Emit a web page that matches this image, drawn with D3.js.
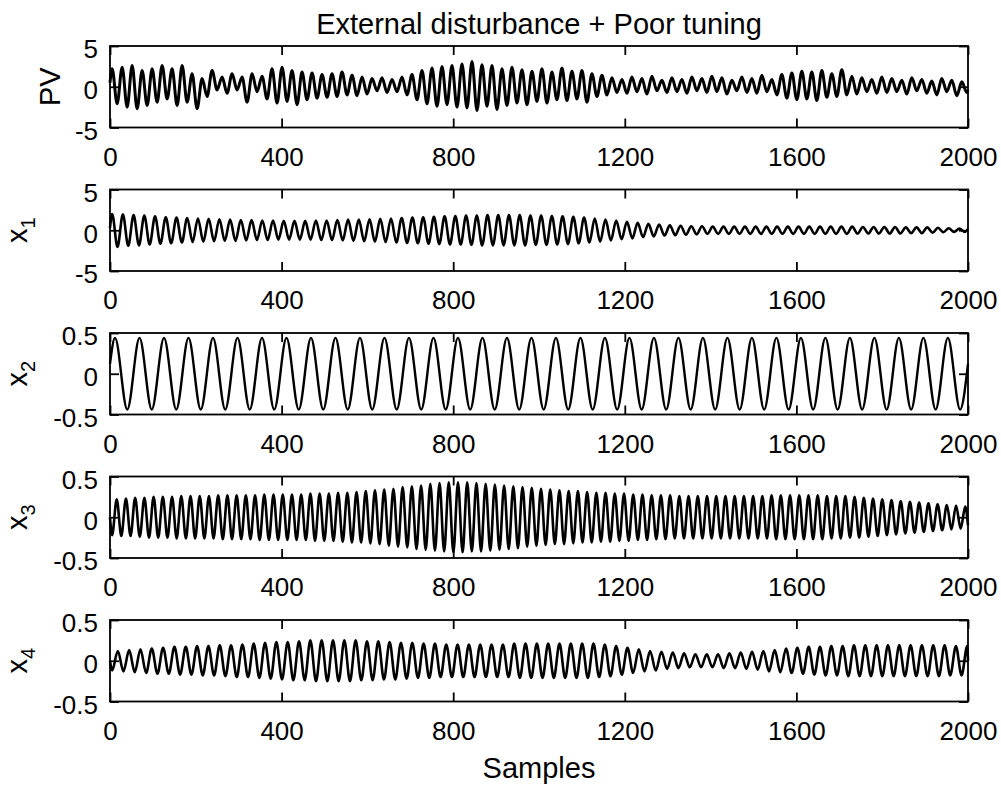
<!DOCTYPE html>
<meta charset="utf-8">
<html>
<style>
body { margin: 0; background: #fff; }
svg { display: block; font-family: "Liberation Sans", Arial, sans-serif; }
.frame { fill: none; stroke: #000; stroke-width: 1.8px; }
.trace { fill: none; stroke: #000; stroke-linejoin: round; }
.axis line { stroke: #000; stroke-width: 1.8px; }
.axis text { font-size: 26px; fill: #000; font-family: "Liberation Sans", Arial, sans-serif; }
</style>
<svg width="1001" height="788"></svg>
<script src="https://d3js.org/d3.v7.min.js"></script>
<script>
// x axis (samples)
var sampleTicks = [0, 400, 800, 1200, 1600, 2000];

// each trace is stored as its successive peaks / troughs,
// with the sample of the first turning point and the spacing between turning points
var pvStart = 0.5, pvFirst = 5, pvStep = 11.65, pvEnd = -0.4;
var pvExtrema = [
  2.2,-2.1,2.4,-2.5,2.6,-2.7,2.0,-2.3,2.2,-1.9,
  2.6,-1.5,2.2,-2.3,2.6,-1.9,1.6,-2.7,1.0,-1.2,
  2.0,-0.4,1.2,-0.8,1.6,-0.4,1.2,-1.9,1.6,-0.6,
  1.3,-1.5,2.2,-2.0,2.4,-1.8,2.0,-2.2,1.8,-1.6,
  1.7,-1.4,1.5,-1.3,1.6,-1.2,1.8,-1.0,1.4,-1.1,
  1.2,-0.9,1.0,-0.5,1.1,-0.7,0.9,-0.6,1.2,-1.0,
  1.5,-1.6,2.0,-2.1,2.3,-2.4,2.5,-2.2,2.6,-2.5,
  2.8,-2.6,3.1,-2.9,2.7,-2.4,2.6,-2.8,2.2,-2.3,
  2.4,-2.0,2.1,-2.2,1.9,-1.8,2.2,-2.0,1.8,-1.6,
  2.3,-1.7,1.9,-1.5,2.0,-1.9,1.6,-1.2,1.4,-1.0,
  1.1,-0.7,0.9,-0.8,1.2,-0.6,1.0,-0.9,1.3,-0.5,
  0.8,-0.7,1.1,-0.6,0.9,-0.8,1.2,-0.5,1.0,-0.7,
  1.3,-0.6,1.1,-0.9,0.8,-0.5,1.2,-0.7,1.0,-0.8,
  1.4,-0.6,0.9,-1.0,1.5,-1.4,1.7,-1.6,1.9,-1.5,
  1.8,-1.7,2.0,-1.3,1.6,-1.2,2.1,-1.0,1.3,-0.9,
  1.1,-0.6,0.9,-0.8,1.2,-0.7,1.0,-0.6,0.8,-0.9,
  1.1,-0.5,0.9,-0.8,0.7,-1.0,1.0,-0.6,0.8,-1.1,
  0.6,-0.7
];

var x1Start = 0.3, x1First = 5, x1Step = 12.5, x1End = 0.15;
var x1Extrema = [
  2.0,-2.05,1.95,-1.9,1.85,-1.85,1.8,-1.75,
  1.7,-1.65,1.6,-1.6,1.55,-1.5,1.5,-1.45,
  1.45,-1.4,1.4,-1.35,1.35,-1.3,1.3,-1.3,
  1.25,-1.25,1.25,-1.2,1.2,-1.2,1.2,-1.15,
  1.15,-1.15,1.15,-1.15,1.15,-1.15,1.2,-1.2,
  1.2,-1.2,1.25,-1.25,1.3,-1.3,1.3,-1.35,
  1.35,-1.4,1.4,-1.45,1.45,-1.5,1.5,-1.55,
  1.55,-1.6,1.6,-1.65,1.65,-1.7,1.7,-1.75,
  1.75,-1.75,1.8,-1.8,1.8,-1.85,1.85,-1.85,
  1.85,-1.85,1.85,-1.85,1.85,-1.85,1.8,-1.8,
  1.8,-1.8,1.75,-1.75,1.7,-1.7,1.65,-1.6,
  1.55,-1.5,1.45,-1.4,1.3,-1.25,1.2,-1.1,
  1.05,-1.0,0.9,-0.85,0.8,-0.75,0.7,-0.65,
  0.6,-0.6,0.55,-0.55,0.5,-0.5,0.5,-0.45,
  0.45,-0.45,0.45,-0.45,0.45,-0.45,0.45,-0.45,
  0.45,-0.45,0.45,-0.45,0.45,-0.45,0.45,-0.45,
  0.45,-0.45,0.45,-0.45,0.45,-0.45,0.45,-0.45,
  0.45,-0.45,0.45,-0.4,0.4,-0.4,0.4,-0.4,
  0.4,-0.4,0.4,-0.4,0.35,-0.35,0.35,-0.35,
  0.35,-0.3,0.3,-0.25,0.25,-0.2,0.2,-0.2
];

var x2Start = 0.12, x2First = 11.7, x2Step = 28.55, x2End = 0.12;
var x2Extrema = [
  0.44,-0.44,0.44,-0.44,0.44,-0.44,0.44,-0.44,0.44,-0.44,
  0.44,-0.44,0.44,-0.44,0.44,-0.44,0.44,-0.44,0.44,-0.44,
  0.44,-0.44,0.44,-0.44,0.44,-0.44,0.44,-0.44,0.44,-0.44,
  0.44,-0.44,0.44,-0.44,0.44,-0.44,0.44,-0.44,0.44,-0.44,
  0.44,-0.44,0.44,-0.44,0.44,-0.44,0.44,-0.44,0.44,-0.44,
  0.44,-0.44,0.44,-0.44,0.44,-0.44,0.44,-0.44,0.44,-0.44,
  0.44,-0.44,0.44,-0.44,0.44,-0.44,0.44,-0.44,0.44,-0.44
];

var x3Start = 0.0, x3First = 4.9, x3Step = 10.75, x3End = -0.1;
var x3Extrema = [
  -0.22,0.22,-0.23,0.23,-0.23,0.24,-0.24,0.24,-0.25,0.25,
  -0.25,0.25,-0.25,0.25,-0.26,0.26,-0.26,0.26,-0.26,0.26,
  -0.26,0.26,-0.26,0.27,-0.27,0.27,-0.27,0.27,-0.27,0.27,
  -0.27,0.27,-0.28,0.28,-0.28,0.28,-0.28,0.28,-0.28,0.28,
  -0.28,0.28,-0.28,0.29,-0.29,0.29,-0.29,0.29,-0.29,0.30,
  -0.30,0.30,-0.31,0.31,-0.31,0.32,-0.32,0.33,-0.33,0.34,
  -0.35,0.35,-0.36,0.37,-0.37,0.38,-0.39,0.39,-0.40,0.41,
  -0.41,0.42,-0.42,0.43,-0.43,0.43,-0.43,0.43,-0.42,0.42,
  -0.42,0.41,-0.41,0.40,-0.40,0.39,-0.39,0.38,-0.38,0.37,
  -0.36,0.36,-0.35,0.35,-0.34,0.34,-0.33,0.33,-0.33,0.32,
  -0.32,0.32,-0.31,0.31,-0.31,0.30,-0.30,0.30,-0.30,0.29,
  -0.29,0.29,-0.29,0.28,-0.28,0.28,-0.28,0.27,-0.27,0.27,
  -0.27,0.27,-0.26,0.26,-0.26,0.26,-0.26,0.26,-0.26,0.26,
  -0.26,0.26,-0.26,0.26,-0.26,0.26,-0.26,0.26,-0.26,0.26,
  -0.26,0.26,-0.26,0.27,-0.27,0.27,-0.27,0.27,-0.27,0.27,
  -0.27,0.27,-0.27,0.27,-0.27,0.26,-0.26,0.26,-0.26,0.26,
  -0.25,0.25,-0.25,0.24,-0.24,0.23,-0.23,0.22,-0.22,0.21,
  -0.21,0.20,-0.20,0.19,-0.19,0.18,-0.18,0.17,-0.17,0.16,
  -0.16,0.15,-0.15,0.14,-0.14,0.13
];

var x4Start = 0.0, x4First = 5, x4Step = 13.2, x4End = 0.0;
var x4Extrema = [
  -0.12,0.12,-0.13,0.13,-0.14,0.14,-0.15,0.15,-0.16,0.16,
  -0.16,0.17,-0.17,0.17,-0.17,0.18,-0.18,0.18,-0.18,0.19,
  -0.19,0.19,-0.20,0.20,-0.20,0.21,-0.21,0.22,-0.22,0.23,
  -0.23,0.23,-0.24,0.24,-0.24,0.25,-0.25,0.25,-0.25,0.25,
  -0.25,0.25,-0.25,0.25,-0.24,0.24,-0.24,0.24,-0.23,0.23,
  -0.23,0.22,-0.22,0.22,-0.21,0.21,-0.21,0.21,-0.20,0.20,
  -0.20,0.20,-0.20,0.20,-0.20,0.20,-0.20,0.20,-0.20,0.20,
  -0.20,0.21,-0.21,0.21,-0.21,0.21,-0.21,0.21,-0.21,0.21,
  -0.21,0.21,-0.21,0.21,-0.21,0.21,-0.20,0.20,-0.19,0.18,
  -0.17,0.16,-0.15,0.14,-0.13,0.12,-0.12,0.11,-0.10,0.10,
  -0.09,0.09,-0.08,0.08,-0.08,0.08,-0.08,0.08,-0.09,0.09,
  -0.09,0.10,-0.10,0.11,-0.11,0.12,-0.13,0.13,-0.14,0.15,
  -0.15,0.16,-0.16,0.17,-0.17,0.17,-0.18,0.18,-0.18,0.18,
  -0.19,0.19,-0.19,0.19,-0.19,0.19,-0.19,0.19,-0.19,0.19,
  -0.19,0.19,-0.19,0.19,-0.19,0.19,-0.19,0.19,-0.18,0.18,
  -0.18,0.18
];

var panelLabels = ["PV", "x", "x", "x", "x"];
var panelSubs = ["", "1", "2", "3", "4"];
var bigTicks = [-5, 0, 5];
var smallTicks = [-0.5, 0, 0.5];

var titleText = "External disturbance + Poor tuning";
var xLabelText = "Samples";

function buildSeries(start, first, step, extrema, end) {
  var pts = [{ s: 0, v: start }];
  extrema.forEach(function(v, i) { pts.push({ s: first + i * step, v: v }); });
  pts.push({ s: 2000, v: end });
  return pts;
}

var panels = [
  { label: panelLabels[0], sub: panelSubs[0], ticks: bigTicks, data: buildSeries(pvStart, pvFirst, pvStep, pvExtrema, pvEnd), thick: 3 },
  { label: panelLabels[1], sub: panelSubs[1], ticks: bigTicks, data: buildSeries(x1Start, x1First, x1Step, x1Extrema, x1End), thick: 2.6 },
  { label: panelLabels[2], sub: panelSubs[2], ticks: smallTicks, data: buildSeries(x2Start, x2First, x2Step, x2Extrema, x2End), thick: 2.4 },
  { label: panelLabels[3], sub: panelSubs[3], ticks: smallTicks, data: buildSeries(x3Start, x3First, x3Step, x3Extrema, x3End), thick: 2.6 },
  { label: panelLabels[4], sub: panelSubs[4], ticks: smallTicks, data: buildSeries(x4Start, x4First, x4Step, x4Extrema, x4End), thick: 2.6 }
];

var svg = d3.select("svg");
var left = 110, right = 968, panelH = 81.5;
var panelTops = [46, 189.5, 333, 476.5, 620];

var x = d3.scaleLinear().domain([0, 2000]).range([0, right - left]);

panels.forEach(function(p, i) {
  var ext = p.ticks[2];
  var y = d3.scaleLinear().domain([-ext, ext]).range([panelH, 0]);
  var g = svg.append("g").attr("transform", "translate(" + left + "," + panelTops[i] + ")");

  var line = d3.line()
      .x(function(d) { return x(d.s); })
      .y(function(d) { return y(d.v); })
      .curve(d3.curveMonotoneX);

  g.append("path")
      .datum(p.data)
      .attr("class", "trace")
      .attr("stroke-width", p.thick)
      .attr("d", line);

  // bottom axis with labels, ticks pointing in
  var xb = g.append("g").attr("class", "axis")
      .attr("transform", "translate(0," + panelH + ")")
      .call(d3.axisBottom(x).tickValues(sampleTicks).tickSizeInner(-9).tickSizeOuter(0).tickPadding(20)
        .tickFormat(d3.format("d")));
  xb.select(".domain").remove();

  var xt = g.append("g").attr("class", "axis")
      .call(d3.axisTop(x).tickValues(sampleTicks).tickSizeInner(-9).tickSizeOuter(0).tickFormat(""));
  xt.select(".domain").remove();

  var yl = g.append("g").attr("class", "axis")
      .call(d3.axisLeft(y).tickValues(p.ticks).tickSizeInner(-9).tickSizeOuter(0).tickPadding(12)
        .tickFormat(function(d) { return String(d); }));
  yl.select(".domain").remove();
  yl.selectAll("text").attr("dy", "0.46em");

  var yr = g.append("g").attr("class", "axis")
      .attr("transform", "translate(" + (right - left) + ",0)")
      .call(d3.axisRight(y).tickValues(p.ticks).tickSizeInner(-9).tickSizeOuter(0).tickFormat(""));
  yr.select(".domain").remove();

  g.append("rect")
      .attr("class", "frame")
      .attr("width", right - left)
      .attr("height", panelH);

  // y label, rotated
  var lx = p.sub ? 27 : 60;
  var t = g.append("text")
      .attr("transform", "translate(" + (lx - left) + "," + (panelH / 2) + ") rotate(-90)")
      .attr("text-anchor", "middle")
      .style("font-size", "29px")
      .text(p.label);
  if (p.sub) {
    t.append("tspan").attr("dy", 8).style("font-size", "20px").text(p.sub);
  }
});

svg.append("text")
    .attr("x", (left + right) / 2).attr("y", 34)
    .attr("text-anchor", "middle")
    .style("font-size", "29px")
    .text(titleText);

svg.append("text")
    .attr("x", (left + right) / 2).attr("y", 778)
    .attr("text-anchor", "middle")
    .style("font-size", "29px")
    .text(xLabelText);
</script>
</html>
